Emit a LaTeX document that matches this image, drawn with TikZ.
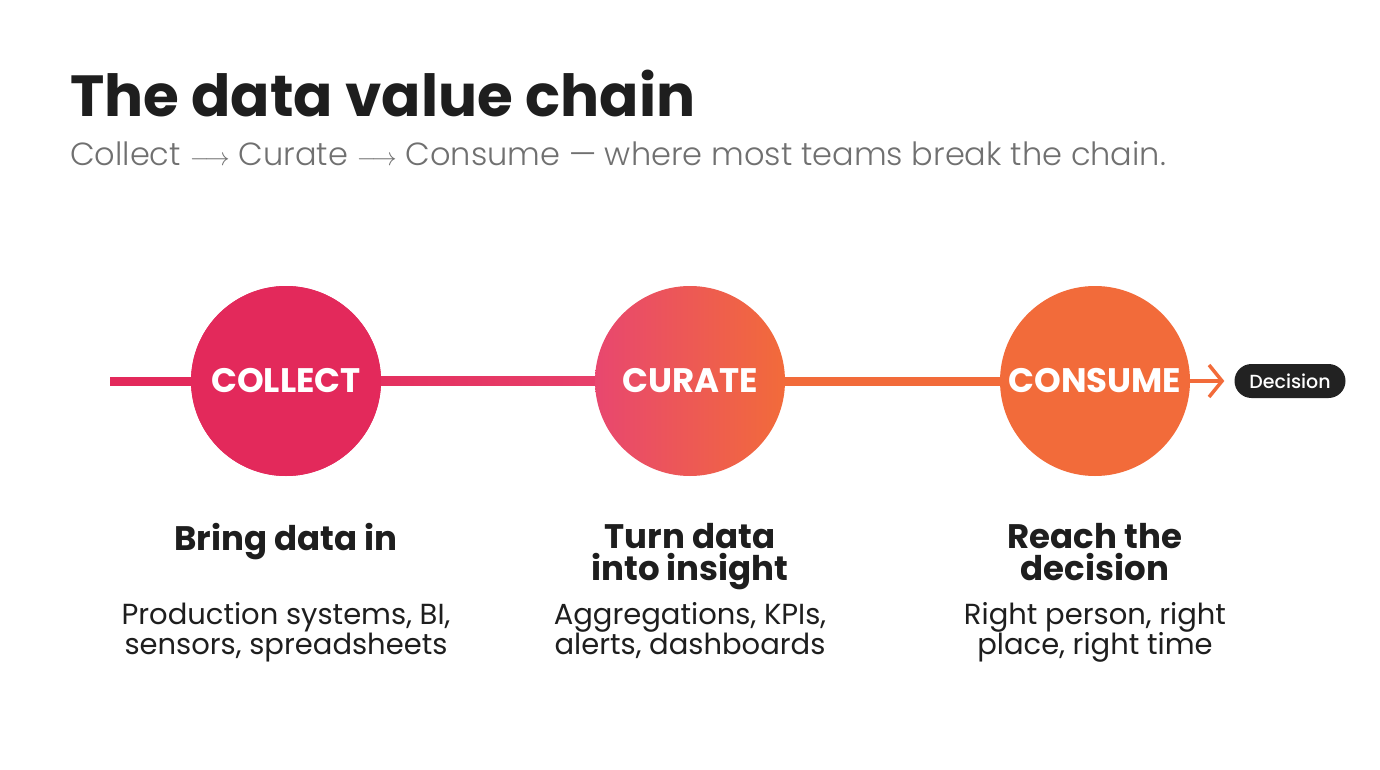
\documentclass[tikz,border=0pt]{standalone}
\usepackage{fontspec}
\setmainfont{Poppins}
\newfontfamily\ChainLight{Poppins Light}
\newfontfamily\ChainMedium{Poppins Medium}
\usetikzlibrary{arrows.meta,calc,positioning}
\definecolor{ChainInk}{HTML}{1E1E1E}
\definecolor{ChainMuted}{HTML}{707070}
\definecolor{ChainPink}{HTML}{E3295B}
\definecolor{ChainRose}{HTML}{E8476F}
\definecolor{ChainOrange}{HTML}{F26B3A}
\definecolor{ChainPill}{HTML}{222222}

\begin{document}
\begin{tikzpicture}[
    x=1pt,y=1pt,
    stage/.style={circle,minimum size=190,inner sep=0pt,text=white,font=\fontsize{34}{34}\selectfont\bfseries},
    heading/.style={anchor=north,inner sep=0pt,align=center,text=ChainInk,font=\fontsize{34}{32}\selectfont\bfseries},
    detail/.style={anchor=north,inner sep=0pt,align=center,text=ChainInk,font=\fontsize{29}{30}\selectfont}
  ]
    \useasboundingbox[fill=white] (0,0) rectangle (1380,-770);

    % title block
    \node[anchor=base west,inner sep=0pt,text=ChainInk,font=\fontsize{58}{58}\selectfont\bfseries] (title) at (70,-117) {The data value chain};
    \node[anchor=base west,inner sep=0pt,text=ChainMuted,font=\fontsize{32}{32}\selectfont\ChainLight] (subtitle) at (70,-166)
      {Collect $\longrightarrow$ Curate $\longrightarrow$ Consume — where most teams break the chain.};

    % the chain
    \coordinate (start) at (110,-381);
    \node[stage,fill=ChainPink] (collect) at (286,-381) {};
    \node[stage] (curate) at (690,-381) {};
    \node[stage] (consume) at (1095,-381) {};
    \node[fill=ChainPill,text=white,rounded corners=17,minimum height=34,minimum width=111,inner sep=0pt,font=\fontsize{19}{19}\selectfont\ChainMedium] (decision) at (1290,-381) {Decision};

    \fill[ChainPink] ($(start)+(0,4.5)$) rectangle ($(collect.center)+(0,-4.5)$);
    \shade[left color=ChainPink,right color=ChainRose] ($(collect.center)+(0,4.5)$) rectangle ($(curate.center)+(0,-4.5)$);
    \fill[ChainOrange] ($(curate.center)+(0,4.5)$) rectangle ($(consume.center)+(0,-4.5)$);
    \draw[ChainOrange,line width=3.5,shorten >=10,-{Straight Barb[length=13pt,width=32pt]}] (consume.east) -- (decision.west);

    % stages on top of the bar
    \node[stage,fill=ChainPink] at (collect) {COLLECT};
    \node[stage,left color=ChainRose,right color=ChainOrange] at (curate) {CURATE};
    \node[stage,fill=ChainOrange] at (consume) {CONSUME};

    % captions
    \node[heading] (collecthead) at (286,-523) {Bring data in};
    \node[heading] (curatehead) at (690,-523) {Turn data\\into insight};
    \node[heading] (consumehead) at (1095,-523) {Reach the\\decision};
    \node[detail] (collectnote) at (286,-602) {Production systems, BI,\\sensors, spreadsheets};
    \node[detail] (curatenote) at (690,-602) {Aggregations, KPIs,\\alerts, dashboards};
    \node[detail] (consumenote) at (1095,-602) {Right person, right\\place, right time};
  \end{tikzpicture}
\end{document}
